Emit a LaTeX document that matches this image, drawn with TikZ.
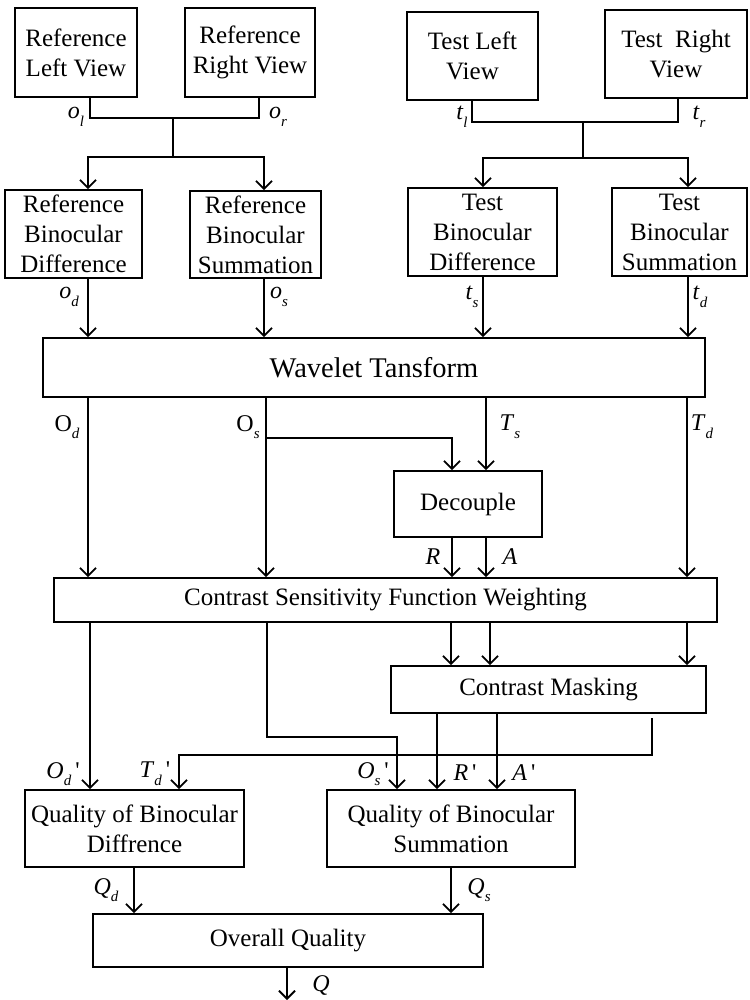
\documentclass[tikz,border=0pt]{standalone}
\usepackage{fontspec}
\setmainfont{Liberation Serif}
\newfontfamily\qfont{Liberation Serif}
\usetikzlibrary{arrows.meta}
\newcommand\sbx[1]{\raisebox{-0.32em}{\fontsize{15}{15}\selectfont\itshape #1}}
\newcommand\pr{\,{\qfont'}}
\begin{document}
\begin{tikzpicture}[x=1pt,y=-1pt,
  box/.style={draw,line width=1.8pt,inner sep=0pt,align=center,font=\fontsize{25}{30}\selectfont},
  lbl/.style={inner sep=0pt,font=\fontsize{24}{24}\selectfont},
  conn/.style={line width=1.8pt},
  arr/.style={line width=1.8pt,-{Straight Barb[length=8pt,width=16pt,line width=1.8pt]}}]
\useasboundingbox (0,0) rectangle (749,1000);
% top boxes
\node[box,minimum width=122pt,minimum height=89pt] (rl) at (76,52.5) {Reference\\Left View};
\node[box,minimum width=130pt,minimum height=89pt] (rr) at (250,52.5) {Reference\\Right View};
\node[box,minimum width=131pt,minimum height=88pt] (tl) at (472.5,56) {Test Left\\View};
\node[box,minimum width=142pt,minimum height=88pt] (tr) at (676,54) {Test~~Right\\View};
\node[box,minimum width=137pt,minimum height=88pt] (rbd) at (73.5,234) {Reference\\Binocular\\Difference};
\node[box,minimum width=131pt,minimum height=87pt] (rbs) at (255.5,234.5) {Reference\\Binocular\\Summation};
\node[box,minimum width=149pt,minimum height=88pt] (tbd) at (482.5,232) {Test\\Binocular\\Difference};
\node[box,minimum width=135pt,minimum height=88pt] (tbs) at (679.5,232) {Test\\Binocular\\Summation};
% middle boxes
\node[box,minimum width=662pt,minimum height=59pt,font=\fontsize{28.5}{30}\selectfont] (wt) at (374,367.5) {Wavelet Tansform};
\node[box,minimum width=148pt,minimum height=66pt] (dc) at (468,504) {Decouple};
\node[box,minimum width=663pt,minimum height=44pt] (csf) at (385.5,600) {Contrast Sensitivity Function Weighting};
\node[box,minimum width=315pt,minimum height=47pt] (cm) at (548.5,689.5) {Contrast Masking};
\node[box,minimum width=219pt,minimum height=77pt] (qbd) at (134.5,828.5) {Quality of Binocular\\Diffrence};
\node[box,minimum width=248pt,minimum height=77pt] (qbs) at (451,828.5) {Quality of Binocular\\Summation};
\node[box,minimum width=390pt,minimum height=53pt] (oq) at (288,940.5) {Overall Quality};
% top connectors (reference)
\coordinate (j1) at (173,118);
\coordinate (s1) at (173,157);
\draw[conn] (90,0 |- rl.south) -- (90,118) -- (259,118) -- (259,0 |- rr.south);
\draw[conn] (j1) -- (s1);
\draw[arr] (s1) -- (88,157) -- (88,0 |- rbd.north);
\draw[arr] (s1) -- (264,157) -- (264,0 |- rbs.north);
% top connectors (test)
\coordinate (j2) at (583,122);
\coordinate (s2) at (583,158);
\draw[conn] (472,0 |- tl.south) -- (472,122) -- (678,122) -- (678,0 |- tr.south);
\draw[conn] (j2) -- (s2);
\draw[arr] (s2) -- (483,158) -- (483,0 |- tbd.north);
\draw[arr] (s2) -- (688,158) -- (688,0 |- tbs.north);
% into wavelet
\draw[arr] (88,0 |- rbd.south) -- (88,0 |- wt.north);
\draw[arr] (264,0 |- rbs.south) -- (264,0 |- wt.north);
\draw[arr] (483,0 |- tbd.south) -- (483,0 |- wt.north);
\draw[arr] (688,0 |- tbs.south) -- (688,0 |- wt.north);
% wavelet outputs
\draw[arr] (88,0 |- wt.south) -- (88,0 |- csf.north);
\draw[arr] (266,0 |- wt.south) -- (266,0 |- csf.north);
\draw[arr] (266,438) -- (452,438) -- (452,0 |- dc.north);
\draw[arr] (486,0 |- wt.south) -- (486,0 |- dc.north);
\draw[arr] (687,0 |- wt.south) -- (687,0 |- csf.north);
\draw[arr] (452,0 |- dc.south) -- (452,0 |- csf.north);
\draw[arr] (486,0 |- dc.south) -- (486,0 |- csf.north);
% csf outputs
\draw[arr] (90,0 |- csf.south) -- (90,0 |- qbd.north);
\draw[arr] (267,0 |- csf.south) -- (267,737) -- (397,737) -- (397,0 |- qbs.north);
\draw[arr] (451,0 |- csf.south) -- (451,0 |- cm.north);
\draw[arr] (490,0 |- csf.south) -- (490,0 |- cm.north);
\draw[arr] (687,0 |- csf.south) -- (687,0 |- cm.north);
% cm outputs
\coordinate (td0) at (652,718);
\draw[arr] (td0) -- (652,755) -- (179,755) -- (179,0 |- qbd.north);
\draw[arr] (437,0 |- cm.south) -- (437,0 |- qbs.north);
\draw[arr] (497,0 |- cm.south) -- (497,0 |- qbs.north);
% quality outputs
\draw[arr] (134,0 |- qbd.south) -- (134,0 |- oq.north);
\draw[arr] (451,0 |- qbs.south) -- (451,0 |- oq.north);
\coordinate (qend) at (287,1000);
\draw[arr] (287,0 |- oq.south) -- (qend);
% labels
\node[lbl] (lol) at (76,117) {\textit{o}\sbx{l}};
\node[lbl] (lor) at (278,117) {\textit{o}\sbx{r}};
\node[lbl] (ltl) at (462,117) {\textit{t}\sbx{l}};
\node[lbl] (ltr) at (699,117) {\textit{t}\sbx{r}};
\node[lbl] (lod) at (69,297) {\textit{o}\sbx{d}};
\node[lbl] (los) at (279,297) {\textit{o}\sbx{s}};
\node[lbl] (lts) at (472,297) {\textit{t}\sbx{s}};
\node[lbl] (ltd) at (700,297) {\textit{t}\sbx{d}};
\node[lbl] (lOd) at (67,427) {O\sbx{d}};
\node[lbl] (lOs) at (248,427) {O\sbx{s}};
\node[lbl] (lTs) at (510,427) {\textit{T}\sbx{s}};
\node[lbl] (lTd) at (702,427) {\textit{T}\sbx{d}};
\node[lbl] (lR) at (433,557) {\textit{R}};
\node[lbl] (lA) at (510,557) {\textit{A}};
\node[lbl] (lOdp) at (63,774) {\textit{O}\sbx{d}\pr};
\node[lbl] (lTdp) at (155,774) {\textit{T}\sbx{d}\pr};
\node[lbl] (lOsp) at (373,774) {\textit{O}\sbx{s}\pr};
\node[lbl] (lRp) at (465,773) {\textit{R}\pr};
\node[lbl] (lAp) at (524,773) {\textit{A}\pr};
\node[lbl] (lQd) at (106,890) {\textit{Q}\sbx{d}};
\node[lbl] (lQs) at (479,890) {\textit{Q}\sbx{s}};
\node[lbl] (lQ) at (321,985) {\textit{Q}};
\end{tikzpicture}
\end{document}
